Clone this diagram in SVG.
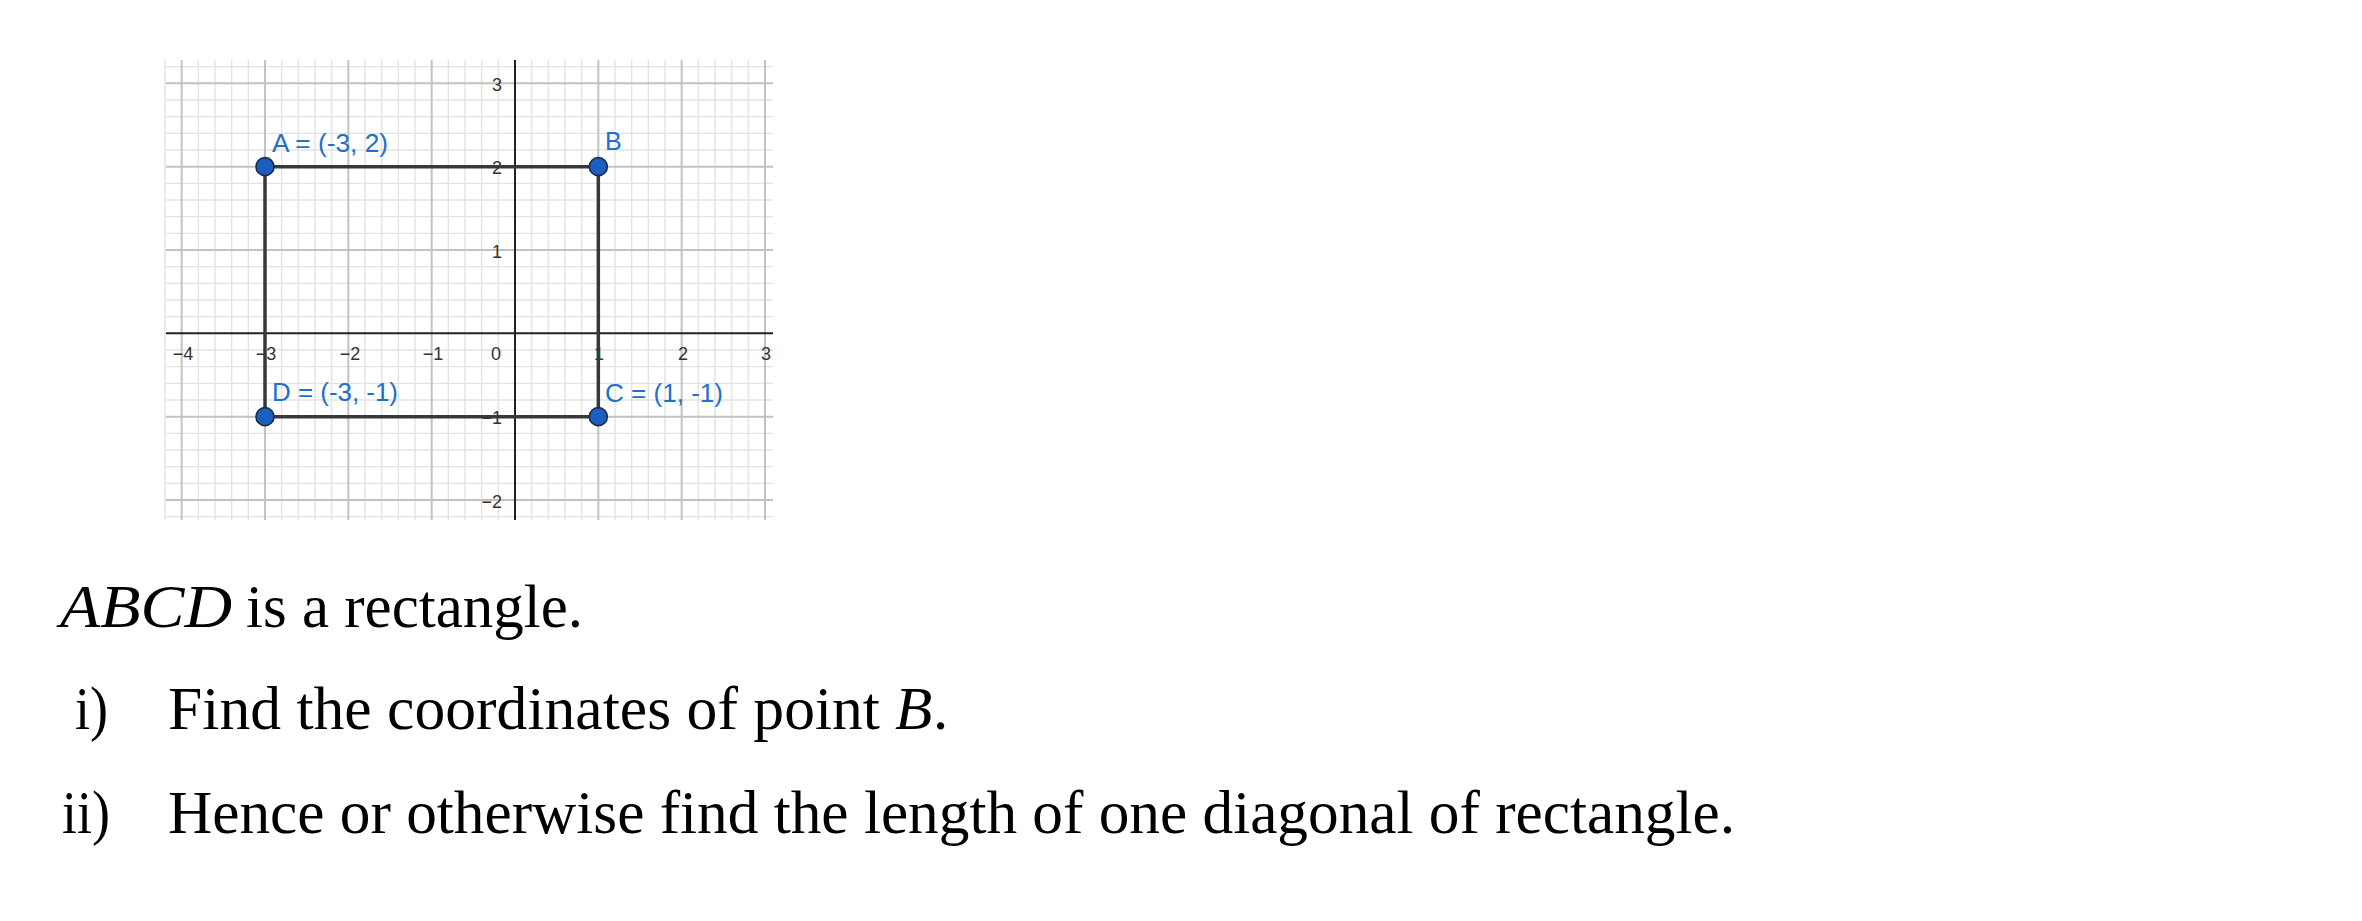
<svg xmlns="http://www.w3.org/2000/svg" width="2362" height="921" viewBox="0 0 2362 921">
<style>
.minor{stroke:#e3e3e3;stroke-width:1.4;fill:none}
.major{stroke:#c2c2c2;stroke-width:2;fill:none}
.axis{stroke:#222;stroke-width:2;fill:none}
.edge{stroke:#383838;stroke-width:3.5;fill:none;stroke-linecap:round}
.pt{fill:#1a5fc0;stroke:#1c2c48;stroke-width:1.6}
.plbl{font-family:"Liberation Sans",Arial,sans-serif;font-size:25px;fill:#2170cc}
.tick{font-family:"Liberation Sans",Arial,sans-serif;font-size:18px;fill:#333}
.tx{text-anchor:middle}
.ty{text-anchor:end}
.body{font-family:"Liberation Serif","Times New Roman",serif;font-size:61px;fill:#000}
.it{font-style:italic}
</style>
<rect width="2362" height="921" fill="#fff"/>
<g id="grid">
<path class="minor" d="M165 60V520M198.33 60V520M215 60V520M231.67 60V520M248.33 60V520M281.67 60V520M298.33 60V520M315 60V520M331.67 60V520M365 60V520M381.67 60V520M398.33 60V520M415 60V520M448.33 60V520M465 60V520M481.67 60V520M498.33 60V520M531.67 60V520M548.33 60V520M565 60V520M581.67 60V520M615 60V520M631.67 60V520M648.33 60V520M665 60V520M698.33 60V520M715 60V520M731.67 60V520M748.33 60V520"/>
<path class="minor" d="M166 66.67H773M166 100H773M166 116.67H773M166 133.33H773M166 150H773M166 183.33H773M166 200H773M166 216.67H773M166 233.33H773M166 266.67H773M166 283.33H773M166 300H773M166 316.67H773M166 350H773M166 366.67H773M166 383.33H773M166 400H773M166 433.33H773M166 450H773M166 466.67H773M166 483.33H773M166 516.67H773"/>
<path class="major" d="M181.67 60V520M265 60V520M348.33 60V520M431.67 60V520M598.33 60V520M681.67 60V520M765 60V520"/>
<path class="major" d="M166 83.33H773M166 166.67H773M166 250H773M166 416.67H773M166 500H773"/>
<path class="axis" d="M166 333.33H773M515 60V520"/>
<g id="xticks">
<text class="tick tx" x="183" y="360">−4</text>
<text class="tick tx" x="266" y="360">−3</text>
<text class="tick tx" x="350" y="360">−2</text>
<text class="tick tx" x="433" y="360">−1</text>
<text class="tick tx" x="496" y="360">0</text>
<text class="tick tx" x="599" y="360">1</text>
<text class="tick tx" x="683" y="360">2</text>
<text class="tick tx" x="766" y="360">3</text>
</g>
<g id="yticks">
<text class="tick ty" x="502" y="90.5">3</text>
<text class="tick ty" x="502" y="174">2</text>
<text class="tick ty" x="502" y="257.5">1</text>
<text class="tick ty" x="502" y="424">−1</text>
<text class="tick ty" x="502" y="507.5">−2</text>
</g>
</g>
<g id="connectors">
<line class="edge" x1="265" y1="166.67" x2="598.33" y2="166.67"/>
<line class="edge" x1="598.33" y1="166.67" x2="598.33" y2="416.67"/>
<line class="edge" x1="598.33" y1="416.67" x2="265" y2="416.67"/>
<line class="edge" x1="265" y1="416.67" x2="265" y2="166.67"/>
</g>
<g id="A">
<circle class="pt" cx="265" cy="166.67" r="9"/>
<text class="plbl" x="272" y="152" textLength="116" lengthAdjust="spacingAndGlyphs">A = (-3, 2)</text>
</g>
<g id="B">
<circle class="pt" cx="598.33" cy="166.67" r="9"/>
<text class="plbl" x="605" y="150">B</text>
</g>
<g id="C">
<circle class="pt" cx="598.33" cy="416.67" r="9"/>
<text class="plbl" x="605" y="401.5" textLength="118" lengthAdjust="spacingAndGlyphs">C = (1, -1)</text>
</g>
<g id="D">
<circle class="pt" cx="265" cy="416.67" r="9"/>
<text class="plbl" x="272" y="401" textLength="126" lengthAdjust="spacingAndGlyphs">D = (-3, -1)</text>
</g>
<g id="question">
<text class="body it" x="60" y="627" textLength="172" lengthAdjust="spacingAndGlyphs">ABCD</text>
<text class="body" x="246" y="627" textLength="337" lengthAdjust="spacingAndGlyphs">is a rectangle.</text>
<text class="body" x="75" y="729" textLength="33" lengthAdjust="spacingAndGlyphs">i)</text>
<text class="body" x="168" y="729" textLength="712" lengthAdjust="spacingAndGlyphs">Find the coordinates of point</text>
<text class="body it" x="895" y="729">B</text>
<text class="body" x="933" y="729">.</text>
<text class="body" x="62" y="833" textLength="48" lengthAdjust="spacingAndGlyphs">ii)</text>
<text class="body" x="168" y="833" textLength="1567" lengthAdjust="spacingAndGlyphs">Hence or otherwise find the length of one diagonal of rectangle.</text>
</g>
</svg>
